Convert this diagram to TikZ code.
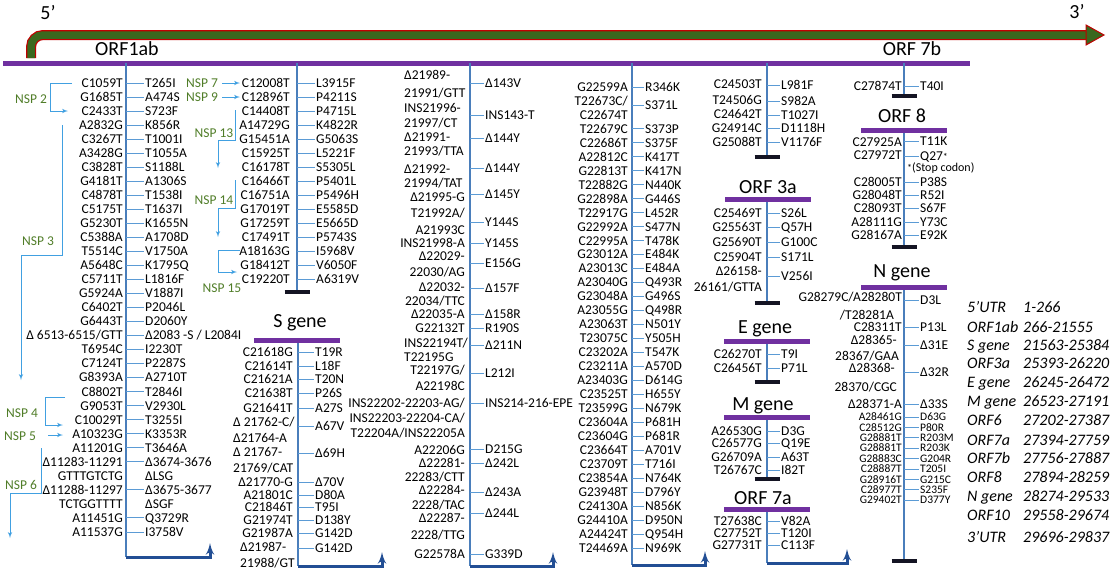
\documentclass[tikz,border=0pt]{standalone}
\usepackage{fontspec}
\setmainfont{Carlito}
\usepackage{tikz}
\usetikzlibrary{arrows}
\definecolor{barpurple}{RGB}{112,48,160}
\definecolor{stemblue}{RGB}{74,126,187}
\definecolor{tickblue}{RGB}{91,155,213}
\definecolor{nspblue}{RGB}{65,160,225}
\definecolor{nspgreen}{RGB}{80,125,40}
\definecolor{brkblue}{RGB}{34,78,148}
\definecolor{endblack}{RGB}{20,20,35}
\definecolor{arrgreen}{RGB}{58,104,30}
\definecolor{arrred}{RGB}{192,0,0}
\newcommand{\stopmark}{{\fontsize{10}{10}\selectfont *}}
\tikzset{
  mut/.style={font=\fontsize{13.5}{14}\selectfont,inner sep=1pt,text height=8.7pt,text depth=0pt},
  mutl/.style={mut,anchor=east},
  mutr/.style={mut,anchor=west},
  dense/.style={font=\fontsize{11.5}{12}\selectfont,text height=7.4pt},
  title/.style={font=\fontsize{20}{22}\selectfont,inner sep=0pt,anchor=base},
  leg/.style={font=\fontsize{16}{18}\selectfont\itshape,anchor=west,inner sep=1pt,text height=10.3pt,text depth=0pt},
  nsp/.style={mut,text=nspgreen},
  nspline/.style={nspblue,line width=1pt},
  genebar/.style={barpurple,line width=5pt},
  stem/.style={stemblue,line width=1.2pt},
  tick/.style={tickblue,line width=0.9pt},
  endbar/.style={endblack,line width=3.5pt},
  bracket/.style={brkblue,line width=3pt}
}

\begin{document}
\begin{tikzpicture}[x=1pt,y=-1pt,>=latex']
\useasboundingbox (0,0) rectangle (1111,571);

% genome arrow and main bar
\coordinate (arr-s) at (31,58);
\coordinate (arr-e) at (1086,35);
\draw[arrred,line width=10pt,rounded corners=12pt] (arr-s) |- (arr-e);
\draw[arrgreen,line width=7.5pt,rounded corners=12pt] (arr-s) |- ([xshift=1pt]arr-e);
\filldraw[fill=arrgreen,draw=arrred,line width=1pt] (arr-e) -- ++(0,-10) -- ++(18,10) -- ++(-18,10) -- cycle;
\node[title] (five) at (48,19) {5’};
\node[title] (three) at (1077,18) {3’};
\node[title] (orf1ab) at (127,55) {ORF1ab};
\node[title] (orf7b) at (912,55) {ORF 7b};
\coordinate (bar-l) at (3,63);
\coordinate (bar-r) at (970,63);
\draw[genebar] (bar-l) -- (bar-r);

% stems
\foreach \n/\x/\a/\b in {A/126/63/557, B/297/63/292, C/298/340/566, D/470/63/566,
    E/632/63/565, F1/767/63/157, F2/767/199/303, F3/767/341/382, F4/767/417/479,
    F5/767/509/563, G1/904/63/96, G2/904/130/247, G3/904/287/561}{
  \coordinate (\n-top) at (\x,\a);
  \coordinate (\n-bot) at (\x,\b);
  \draw[stem] (\n-top) -- (\n-bot);
}
\foreach \n in {B,F1,F2,F3,F4,G1,G2,G3}
  \draw[endbar] ([xshift=-12.5pt]\n-bot) -- ([xshift=12.5pt]\n-bot);
\foreach \n/\w in {A/84, C/84, D/83, E/73, F5/80}
  \draw[bracket,->] (\n-bot) -- ++(\w,0) -- ++(0,-14);

% gene bars with titles
\foreach \n/\x/\y/\tx/\ty/\t in {S/297/340/300/327/S gene, 3a/768/199/768/193/ORF 3a,
    E/767/341/765/333/E gene, M/767/417/763/410/M gene, 7a/767/509/763/504/ORF 7a,
    8/904/130/902/122/ORF 8, N/904/287/902/277/N gene}{
  \coordinate (\n-bl) at ({\x-43},\y);
  \coordinate (\n-br) at ({\x+43},\y);
  \draw[genebar] (\n-bl) -- (\n-br);
  \node[title] (\n-title) at (\tx,\ty) {\t};
}

% ORF1ab, nsp 2-6
\foreach \i/\l/\r in {1/C1059T/T265I, 2/G1685T/A474S, 3/C2433T/S723F, 4/A2832G/K856R,
    5/C3267T/T1001I, 6/A3428G/T1055A, 7/C3828T/S1188L, 8/G4181T/A1306S, 9/C4878T/T1538I,
    10/C5175T/T1637I, 11/G5230T/K1655N, 12/C5388A/A1708D, 13/T5514C/V1750A,
    14/A5648C/K1795Q, 15/C5711T/L1816F, 16/G5924A/V1887I, 17/C6402T/P2046L,
    18/G6443T/D2060Y, 19/{Δ 6513-6515/GTT}/{Δ2083 -S / L2084I}, 20/T6954C/I2230T,
    21/C7124T/P2287S, 22/G8393A/A2710T, 23/C8802T/T2846I, 24/G9053T/V2930L,
    25/C10029T/T3255I, 26/A10323G/K3353R, 27/A11201G/T3646A, 28/Δ11283-11291/Δ3674-3676,
    30/Δ11288-11297/Δ3675-3677, 32/A11451G/Q3729R, 33/A11537G/I3758V}{
  \node[mutl] (A-l\i) at (124,{83+14.03*(\i-1)}) {\l};
  \node[mutr] (A-r\i) at (144,{83+14.03*(\i-1)}) {\r};
  \draw[tick] (A-top |- A-r\i) -- (A-r\i);
}
\node[mutl] (A-l29) at (124,{83+14.03*28}) {GTTTGTCTG};
\node[mutr] (A-r29) at (144,{83+14.03*28}) {ΔLSG};
\node[mutl] (A-l31) at (124,{83+14.03*30}) {TCTGGTTTT};
\node[mutr] (A-r31) at (144,{83+14.03*30}) {ΔSGF};

% ORF1ab, nsp 7-15
\foreach \l/\r [count=\i] in {C12008T/L3915F, C12896T/P4211S, C14408T/P4715L,
    A14729G/K4822R, G15451A/G5063S, C15925T/L5221F, C16178T/S5305L, C16466T/P5401L,
    C16751A/P5496H, G17019T/E5585D, G17259T/E5665D, C17491T/P5743S, A18163G/I5968V,
    G18412T/V6050F, C19220T/A6319V}{
  \node[mutl] (B-l\i) at (291,{83+14*(\i-1)}) {\l};
  \node[mutr] (B-r\i) at (315,{83+14*(\i-1)}) {\r};
  \draw[tick] (B-top |- B-r\i) -- (B-r\i);
}

% nsp labels
\node[nsp] (nsp2) at (31,99) {NSP 2};
\node[nsp] (nsp3) at (38,241) {NSP 3};
\node[nsp] (nsp4) at (22,413) {NSP 4};
\node[nsp] (nsp5) at (20,436) {NSP 5};
\node[nsp] (nsp6) at (21,485) {NSP 6};
\node[nsp] (nsp7) at (202,83) {NSP 7};
\node[nsp] (nsp9) at (202,97) {NSP 9};
\node[nsp] (nsp13) at (214,133) {NSP 13};
\node[nsp] (nsp14) at (214,200) {NSP 14};
\node[nsp] (nsp15) at (222,288) {NSP 15};
\coordinate (n2a) at (72,83);   \coordinate (n2b) at (68,111);
\coordinate (n3a) at (62,125);  \coordinate (n3b) at (21,380);
\coordinate (n4a) at (65,397);  \coordinate (n4b) at (63,425);
\coordinate (n5a) at (48,435);  \coordinate (n5b) at (63,435);
\coordinate (n6a) at (41,448);  \coordinate (n6b) at (10,538);
\coordinate (n7a) at (222,83);  \coordinate (n7b) at (240,83);
\coordinate (n9a) at (222,97);  \coordinate (n9b) at (240,97);
\coordinate (n13a) at (235,110); \coordinate (n13b) at (218,168);
\coordinate (n14a) at (235,180); \coordinate (n14b) at (218,237);
\coordinate (n15a) at (240,250); \coordinate (n15b) at (237,272);
\draw[nspline,->] (n2a) -- ++(-22,0) |- (n2b);
\draw[nspline,->] (n3a) -- ++(0,130) -| (n3b);
\draw[nspline,->] (n4a) -- ++(-20,0) |- (n4b);
\draw[nspline,->] (n5a) -- (n5b);
\draw[nspline,->] (n6a) -- ++(0,45) -| (n6b);
\draw[nspline,->] (n7a) -- (n7b);
\draw[nspline,->] (n9a) -- (n9b);
\draw[nspline,->] (n13a) -- ++(0,30) -| (n13b);
\draw[nspline,->] (n14a) -- ++(0,28) -| (n14b);
\draw[nspline,->] (n15a) -- ++(-22,0) |- (n15b);

% S gene, first part
\foreach \y/\t [count=\k] in {352/C21618G, 366/C21614T, 379/C21621A, 393/C21638T,
    408/G21641T, 482/Δ21770-G, 495/A21801C, 507/C21846T, 520/G21974T, 533/G21987A}
  \node[mutl] (C-l\k) at (294,\y) {\t};
\foreach \y/\x/\t [count=\k] in {422/232/{Δ 21762-C/}, 438/232/Δ21764-A, 452/232/{Δ 21767-},
    468/232/{21769/CAT}, 547/239/Δ21987-, 563/239/{21988/GT}}
  \node[mutr] (C-w\k) at (\x,\y) {\t};
\foreach \y/\t [count=\k] in {352/T19R, 366/L18F, 379/T20N, 393/P26S, 408/A27S, 426/A67V,
    453/Δ69H, 482/Δ70V, 495/D80A, 507/T95I, 520/D138Y, 533/G142D, 548/G142D}{
  \node[mutr] (C-r\k) at (314,\y) {\t};
  \draw[tick] (C-top |- C-r\k) -- (C-r\k);
}

% S gene, second part
\foreach \y/\t [count=\k] in {75/Δ21989-, 93/{21991/GTT}, 108/INS21996-, 123/{21997/CT},
    137/Δ21991-, 151/{21993/TTA}, 169/Δ21992-, 183/{21994/TAT}, 343/{INS22194T/}, 357/T22195G}
  \node[mutr] (D-w\k) at (403,\y) {\t};
\foreach \y/\t [count=\k] in {197/Δ21995-G, 213/{T21992A/}, 230/A21993C, 243/INS21998-A,
    256/Δ22029-, 272/{22030/AG}, 287/Δ22032-, 301/{22034/TTC}, 314/Δ22035-A, 328/G22132T,
    370/{T22197G/}, 386/A22198C, 403/{INS22202-22203-AG/}, 418/{INS22203-22204-CA/},
    433/{T22204A/INS22205A}, 450/A22206G, 463/Δ22281-, 477/{22283/CTT}, 490/Δ22284-,
    505/{2228/TAC}, 518/Δ22287-, 535/{2228/TTG}, 554/G22578A}
  \node[mutl] (D-l\k) at (466,\y) {\t};
\foreach \y/\t [count=\k] in {83/Δ143V, 115/INS143-T, 138/Δ144Y, 168/Δ144Y, 194/Δ145Y,
    222/Y144S, 243/Y145S, 263/E156G, 288/Δ157F, 314/Δ158R, 328/R190S, 345/Δ211N, 373/L212I,
    403/INS214-216-EPE, 449/D215G, 463/Δ242L, 492/Δ243A, 513/Δ244L, 554/G339D}{
  \node[mutr] (D-r\k) at (484,\y) {\t};
  \draw[tick] (D-top |- D-r\k) -- (D-r\k);
}

% S gene, third part
\foreach \t [count=\i] in {G22599A, {T22673C/}, C22674T, T22679C, C22686T, A22812C, G22813T,
    T22882G, G22898A, T22917G, G22992A, C22995A, G23012A, A23013C, A23040G, G23048A,
    A23055G, A23063T, T23075C, C23202A, C23211A, A23403G, C23525T, T23599G, C23604A,
    C23604G, C23664T, C23709T, C23854A, G23948T, C24130A, G24410A, A24424T, T24469A}
  \node[mutl] (E-l\i) at (629,{87+13.97*(\i-1)}) {\t};
\foreach \i/\t [count=\k] in {1/R346K, 2.3/S371L, 4/S373P, 5/S375F, 6/K417T, 7/K417N,
    8/N440K, 9/G446S, 10/L452R, 11/S477N, 12/T478K, 13/E484K, 14/E484A, 15/Q493R,
    16/G496S, 17/Q498R, 18/N501Y, 19/Y505H, 20/T547K, 21/A570D, 22/D614G, 23/H655Y,
    24/N679K, 25/P681H, 26/P681R, 27/A701V, 28/T716I, 29/N764K, 30/D796Y, 31/N856K,
    32/D950N, 33/Q954H, 34/N969K}{
  \node[mutr] (E-r\k) at (644,{87+13.97*(\i-1)}) {\t};
  \draw[tick] (E-top |- E-r\k) -- (E-r\k);
}

% S gene end, ORF 3a, E, M, ORF 7a
\foreach \y/\t [count=\k] in {84/C24503T, 100/T24506G, 114/C24642T, 128/G24914C,
    142/G25088T, 213/C25469T, 227/G25563T, 242/G25690T, 257/C25904T, 271/Δ26158-,
    287/{26161/GTTA}, 354/C26270T, 368/C26456T, 431/A26530G, 443/C26577G, 457/G26709A,
    470/T26767C, 521/T27638C, 533/C27752T, 545/G27731T}
  \node[mutl] (F-l\k) at (763,\y) {\t};
\foreach \y/\t [count=\k] in {85/L981F, 101/S982A, 115/T1027I, 128/D1118H, 142/V1176F,
    213/S26L, 227/Q57H, 242/G100C, 257/S171L, 276/V256I, 354/T9I, 368/P71L, 431/D3G,
    443/Q19E, 457/A63T, 470/I82T, 521/V82A, 533/T120I, 545/C113F}{
  \node[mutr] (F-r\k) at (780,\y) {\t};
  \draw[tick] (F1-top |- F-r\k) -- (F-r\k);
}

% ORF 7b, ORF 8, N gene
\foreach \y/\x/\t [count=\k] in {86/903/C27874T, 142/903/C27925A, 155/903/C27972T,
    182/903/C28005T, 195/903/G28048T, 208/903/C28093T, 222/903/A28111G, 235/903/G28167A,
    297/903/{G28279C/A28280T}, 315/895/{/T28281A}, 327/903/C28311T, 340/898/Δ28365-,
    356/900/{28367/GAA}, 368/896/Δ28368-, 387/898/{28370/CGC}, 404/903/Δ28371-A}
  \node[mutl] (G-l\k) at (\x,\y) {\t};
\foreach \t [count=\k] in {A28461G, C28512G, G28881T, G28881T, G28883C, C28887T,
    G28916T, C28977T, G29402T}
  \node[mutl,dense] (G-d\k) at (903,{417+10.4*(\k-1)}) {\t};
\foreach \y/\t [count=\k] in {86/T40I, 141/T11K, 156/{Q27\stopmark}, 182/P38S,
    195/R52I, 208/S67F, 222/Y73C, 235/E92K, 300/D3L, 327/P13L, 345/Δ31E, 372/Δ32R,
    404/Δ33S}{
  \node[mutr] (G-r\k) at (919,\y) {\t};
  \draw[tick] (G1-top |- G-r\k) -- (G-r\k);
}
\foreach \t [count=\k] in {D63G, P80R, R203M, R203K, G204R, T205I, G215C, S235F, D377Y}{
  \node[mutr,dense] (G-e\k) at (919,{417+10.4*(\k-1)}) {\t};
  \draw[tick] (G1-top |- G-e\k) -- (G-e\k);
}
\node[mutr,font=\fontsize{12}{13}\selectfont,text height=7.7pt] (stop) at (906,168) {\stopmark(Stop codon)};

% genome coordinates
\foreach \y/\a/\b [count=\k] in {307/5’UTR/1-266, 327/ORF1ab/266-21555,
    345/S gene/21563-25384, 363/ORF3a/25393-26220, 382/E gene/26245-26472,
    401/M gene/26523-27191, 420/ORF6/27202-27387, 440/ORF7a/27394-27759,
    458/ORF7b/27756-27887, 477/ORF8/27894-28259, 496/N gene/28274-29533,
    515/ORF10/29558-29674, 537/3’UTR/29696-29837}{
  \node[leg] (lg-a\k) at (966,\y) {\a};
  \node[leg] (lg-b\k) at (1022,\y) {\b};
}
\end{tikzpicture}
\end{document}
